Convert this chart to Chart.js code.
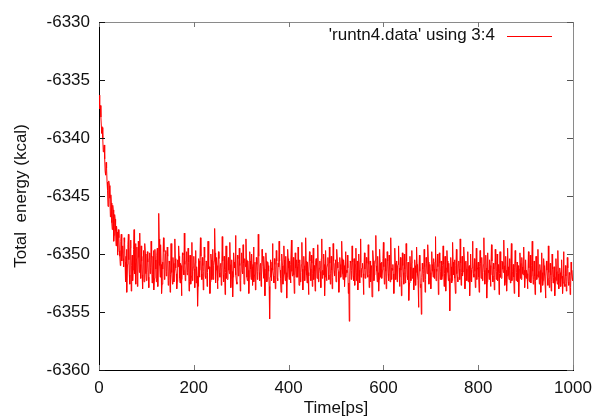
<!DOCTYPE html>
<html>
<head>
<meta charset="utf-8">
<script src="https://cdn.jsdelivr.net/npm/chart.js@4.4.1/dist/chart.umd.min.js"></script>
<style>
  html, body { margin: 0; padding: 0; background: #fff; }
  #wrap { width: 595px; height: 419px; }
</style>
</head>
<body>
<div id="wrap"><canvas id="c" width="595" height="419"></canvas></div>
<script>
// ---- data ----
const seriesLabel = "'runtn4.data' using 3:4";
const xTitle = "Time[ps]";
const yTitle = "Total  energy (kcal)";
const xTicks = [0, 200, 400, 600, 800, 1000];
const yTicks = [-6360, -6355, -6350, -6345, -6340, -6335, -6330];
const timeStep = 1; // ps between samples

const energy = [
  // 0 - 100 ps (relaxation)
  -6336.3, -6336.9, -6337.5, -6337.2, -6338.2, -6339.0, -6339.6, -6339.1, -6340.1, -6341.2,
  -6341.0, -6340.6, -6341.8, -6342.9, -6343.2, -6342.1, -6342.6, -6343.8, -6344.5, -6345.9,
  -6345.3, -6343.7, -6344.1, -6345.2, -6346.8, -6344.9, -6345.6, -6347.3, -6347.9, -6345.8,
  -6346.2, -6348.9, -6348.4, -6346.6, -6347.0, -6348.0, -6349.3, -6347.6, -6348.1, -6350.1,
  -6349.8, -6347.9, -6348.6, -6349.7, -6350.2, -6351.0, -6348.9, -6348.3, -6350.6, -6349.9,
  -6349.3, -6350.4, -6351.1, -6348.6, -6349.0, -6350.7, -6352.4, -6350.2, -6349.6, -6353.3,
  -6350.9, -6349.2, -6348.3, -6350.5, -6351.8, -6352.6, -6349.5, -6348.8, -6353.2, -6351.0,
  -6350.1, -6352.3, -6351.4, -6349.6, -6347.9, -6351.7, -6350.8, -6349.1, -6352.6, -6350.4,
  -6349.4, -6352.8, -6351.9, -6348.9, -6350.3, -6351.6, -6348.2, -6350.9, -6352.1, -6349.3,
  -6350.6, -6351.8, -6353.0, -6350.2, -6349.7, -6352.4, -6351.5, -6349.1, -6350.0, -6351.7,
  -6352.3,
  // 101 - 1000 ps
  -6351.6, -6349.8, -6350.7, -6352.0, -6352.9, -6350.4, -6349.9, -6351.7, -6351.2, -6348.9, -6350.3, -6352.5, -6351.8, -6350.2, -6349.7, -6353.1, -6352.1, -6349.6, -6350.5, -6351.3,
  -6352.4, -6350.1, -6349.5, -6352.8, -6350.8, -6346.5, -6348.7, -6351.0, -6352.0, -6349.2, -6350.9, -6353.4, -6352.6, -6350.7, -6351.3, -6348.6, -6349.8, -6352.2, -6351.9, -6350.0,
  -6349.7, -6351.9, -6351.5, -6349.4, -6350.2, -6352.7, -6352.3, -6350.6, -6350.9, -6353.3, -6351.8, -6349.1, -6350.0, -6351.6, -6352.6, -6350.3, -6350.8, -6352.4, -6351.4, -6348.7,
  -6350.4, -6351.2, -6351.7, -6353.0, -6352.4, -6350.5, -6351.1, -6349.3, -6350.2, -6352.1, -6352.5, -6350.8, -6351.0, -6353.6, -6352.2, -6349.9, -6350.1, -6351.4, -6351.8, -6348.2,
  -6350.9, -6352.3, -6352.0, -6350.6, -6349.8, -6351.8, -6351.6, -6349.5, -6350.7, -6353.2, -6352.4, -6350.1, -6350.5, -6352.6, -6351.9, -6349.0, -6352.3, -6351.5, -6351.1, -6350.2,
  -6351.3, -6352.9, -6350.8, -6349.7, -6352.5, -6351.1, -6351.9, -6354.5, -6352.8, -6350.4, -6350.6, -6352.0, -6351.4, -6348.6, -6350.2, -6351.7, -6352.2, -6350.3, -6351.0, -6353.1,
  -6351.5, -6349.4, -6350.3, -6351.9, -6352.1, -6350.6, -6350.7, -6352.8, -6351.6, -6348.9, -6350.1, -6351.3, -6351.1, -6353.4, -6352.4, -6350.0, -6350.5, -6352.2, -6351.8, -6349.6,
  -6352.2, -6351.0, -6350.6, -6347.8, -6349.9, -6352.5, -6351.4, -6350.3, -6351.0, -6353.0, -6352.3, -6349.8, -6350.4, -6351.6, -6352.0, -6350.9, -6350.8, -6352.7, -6351.2, -6348.5,
  -6350.6, -6351.8, -6352.4, -6350.2, -6351.3, -6353.5, -6351.6, -6349.3, -6350.8, -6352.1, -6352.2, -6350.7, -6350.3, -6351.4, -6351.7, -6349.0, -6350.9, -6352.9, -6352.1, -6350.5,
  -6351.5, -6353.7, -6352.0, -6349.9, -6350.7, -6351.2, -6350.9, -6348.4, -6351.8, -6352.4, -6352.6, -6350.1, -6350.4, -6351.9, -6351.2, -6349.5, -6351.0, -6353.2, -6352.3, -6350.8,
  -6349.9, -6351.5, -6351.7, -6349.2, -6350.8, -6352.6, -6351.9, -6350.4, -6351.1, -6348.7, -6350.5, -6352.0, -6352.3, -6350.6, -6351.4, -6353.4, -6352.0, -6349.8, -6350.6, -6351.3,
  -6352.2, -6350.0, -6351.1, -6352.7, -6350.9, -6349.4, -6352.4, -6351.8, -6350.7, -6353.1, -6351.8, -6350.3, -6350.9, -6352.2, -6351.5, -6348.3, -6350.2, -6351.6, -6352.3, -6350.9,
  -6350.8, -6352.8, -6351.9, -6349.6, -6350.4, -6351.1, -6352.1, -6350.2, -6351.3, -6353.6, -6351.7, -6349.9, -6350.6, -6352.4, -6352.2, -6350.7, -6351.0, -6351.5, -6352.8, -6355.6,
  -6352.0, -6350.5, -6351.2, -6352.3, -6350.7, -6349.1, -6351.4, -6351.9, -6352.5, -6350.4, -6350.9, -6353.0, -6351.3, -6349.7, -6350.6, -6352.1, -6352.3, -6350.8, -6351.1, -6348.9,
  -6350.6, -6351.4, -6352.1, -6353.3, -6351.4, -6350.0, -6351.0, -6352.6, -6351.8, -6349.3, -6350.5, -6351.7, -6352.3, -6350.2, -6351.6, -6353.8, -6352.0, -6349.6, -6350.4, -6351.2,
  -6352.2, -6350.6, -6351.0, -6352.5, -6350.9, -6348.8, -6351.5, -6351.9, -6350.7, -6350.3, -6351.8, -6353.4, -6352.1, -6349.9, -6351.2, -6352.0, -6350.5, -6351.1, -6352.0, -6349.4,
  -6350.8, -6352.7, -6351.7, -6350.5, -6352.4, -6351.6, -6350.9, -6349.0, -6351.3, -6353.1, -6352.0, -6350.2, -6351.0, -6352.3, -6351.4, -6348.6, -6350.6, -6351.8, -6352.5, -6350.7,
  -6351.6, -6353.5, -6351.9, -6349.8, -6350.6, -6351.3, -6352.3, -6350.1, -6350.8, -6352.8, -6351.7, -6349.5, -6352.2, -6351.0, -6351.5, -6353.2, -6350.7, -6350.4, -6351.0, -6352.1,
  -6350.9, -6349.2, -6352.4, -6351.7, -6351.2, -6350.6, -6351.5, -6352.9, -6350.4, -6348.7, -6352.1, -6351.4, -6351.8, -6350.0, -6350.9, -6353.6, -6352.0, -6349.7, -6351.3, -6352.3,
  -6351.2, -6350.9, -6350.3, -6351.8, -6352.2, -6349.4, -6350.8, -6352.6, -6351.7, -6350.2, -6351.4, -6353.0, -6352.0, -6349.1, -6350.6, -6351.5, -6351.9, -6350.8, -6350.5, -6352.4,
  -6351.8, -6349.6, -6350.7, -6351.2, -6351.5, -6353.3, -6352.1, -6350.3, -6350.9, -6352.0, -6351.3, -6348.9, -6350.4, -6351.7, -6352.2, -6350.5, -6351.0, -6352.8, -6351.6, -6349.8,
  -6352.0, -6351.4, -6351.6, -6350.1, -6351.2, -6353.4, -6352.5, -6355.8, -6351.9, -6350.6, -6350.8, -6352.2, -6351.4, -6349.3, -6350.7, -6351.9, -6352.3, -6350.4, -6351.1, -6352.7,
  -6350.9, -6349.5, -6352.3, -6351.6, -6350.6, -6353.1, -6351.8, -6350.0, -6351.4, -6352.5, -6350.7, -6348.7, -6352.0, -6351.3, -6351.2, -6350.8, -6351.7, -6353.5, -6352.1, -6349.9,
  -6351.3, -6352.1, -6351.9, -6350.3, -6350.8, -6351.8, -6352.0, -6349.2, -6350.9, -6352.9, -6351.7, -6350.6, -6352.4, -6351.1, -6351.0, -6353.7, -6351.5, -6349.7, -6350.6, -6352.3,
  -6351.8, -6350.9, -6350.5, -6348.4, -6351.0, -6351.5, -6352.4, -6350.2, -6351.6, -6353.2, -6352.2, -6349.6, -6350.8, -6352.0, -6351.3, -6350.7, -6352.1, -6351.4, -6350.4, -6349.0,
  -6351.1, -6352.6, -6352.0, -6350.4, -6351.5, -6353.0, -6351.9, -6349.8, -6350.6, -6351.7, -6352.3, -6350.1, -6351.0, -6352.4, -6350.7, -6348.6, -6352.2, -6351.2, -6351.4, -6350.9,
  -6351.7, -6353.4, -6352.1, -6349.5, -6350.8, -6352.2, -6351.5, -6350.6, -6352.4, -6351.0, -6350.9, -6349.3, -6351.2, -6352.8, -6352.0, -6350.3, -6351.4, -6353.6, -6352.3, -6349.9,
  -6351.0, -6351.6, -6352.6, -6350.0, -6351.3, -6352.5, -6351.8, -6349.1, -6350.6, -6351.9, -6352.2, -6350.7, -6351.7, -6354.0, -6352.5, -6350.2, -6351.1, -6352.3, -6350.8, -6349.7,
  -6352.1, -6351.4, -6351.2, -6353.1, -6352.4, -6350.5, -6351.0, -6352.7, -6351.6, -6349.4, -6350.9, -6351.8, -6352.3, -6354.6, -6351.9, -6350.1, -6351.5, -6352.9, -6352.6, -6355.2,
  -6352.0, -6350.8, -6351.3, -6352.4, -6351.7, -6349.6, -6351.1, -6353.3, -6352.2, -6350.3, -6350.8, -6351.7, -6351.4, -6349.2, -6350.7, -6352.6, -6352.1, -6350.9, -6351.6, -6353.0,
  -6351.4, -6349.8, -6350.9, -6351.5, -6352.0, -6350.4, -6351.3, -6352.1, -6350.7, -6348.5, -6352.3, -6351.3, -6351.5, -6350.0, -6351.1, -6353.5, -6352.4, -6349.9, -6350.8, -6352.2,
  -6351.5, -6350.6, -6352.2, -6351.9, -6351.0, -6349.3, -6350.9, -6352.8, -6351.7, -6350.2, -6352.0, -6353.2, -6351.2, -6349.7, -6350.6, -6351.6, -6352.3, -6350.8, -6352.1, -6354.9,
  -6351.8, -6350.3, -6351.1, -6352.5, -6352.3, -6349.0, -6350.7, -6351.8, -6351.4, -6350.5, -6352.1, -6353.4, -6351.0, -6349.6, -6351.7, -6352.0, -6352.4, -6350.9, -6350.6, -6351.3,
  -6352.2, -6348.7, -6350.8, -6352.7, -6351.6, -6350.2, -6351.9, -6351.5, -6351.0, -6349.4, -6350.7, -6353.0, -6352.1, -6350.6, -6351.3, -6352.3, -6351.5, -6349.8, -6352.4, -6351.1,
  -6351.0, -6353.6, -6352.3, -6350.0, -6351.4, -6352.4, -6351.2, -6348.9, -6350.6, -6351.7, -6352.0, -6350.4, -6351.5, -6352.9, -6351.8, -6349.5, -6352.2, -6351.2, -6351.3, -6350.7,
  -6352.0, -6353.3, -6351.1, -6349.7, -6350.8, -6352.1, -6351.9, -6350.3, -6352.3, -6351.6, -6350.9, -6348.6, -6351.4, -6352.6, -6351.7, -6350.1, -6351.2, -6353.8, -6352.4, -6349.9,
  -6351.6, -6351.4, -6352.2, -6350.5, -6351.0, -6352.8, -6351.8, -6349.2, -6350.6, -6351.9, -6352.4, -6350.8, -6351.3, -6353.1, -6352.0, -6349.6, -6350.9, -6352.2, -6351.5, -6350.0,
  -6352.3, -6351.5, -6350.9, -6353.5, -6351.7, -6349.8, -6351.2, -6352.0, -6352.1, -6350.6, -6350.7, -6351.3, -6351.6, -6348.8, -6351.0, -6352.7, -6352.4, -6350.2, -6351.4, -6353.2,
  -6351.9, -6349.5, -6351.1, -6351.8, -6352.2, -6350.4, -6351.4, -6352.5, -6350.8, -6349.1, -6352.3, -6351.6, -6351.5, -6350.9, -6352.0, -6353.4, -6351.2, -6349.7, -6350.8, -6352.3,
  -6351.6, -6350.7, -6352.4, -6351.0, -6351.9, -6353.7, -6351.3, -6349.9, -6350.8, -6352.1, -6352.2, -6350.3, -6351.1, -6351.7, -6351.8, -6349.4, -6351.4, -6352.9, -6352.0, -6350.5,
  -6352.1, -6351.4, -6351.7, -6353.0, -6352.3, -6349.8, -6351.2, -6352.4, -6351.8, -6350.1, -6352.5, -6351.9, -6351.0, -6348.9, -6351.5, -6352.6, -6352.2, -6350.6, -6351.9, -6353.5,
  -6352.4, -6350.2, -6351.3, -6352.2, -6351.8, -6349.6, -6352.0, -6351.5, -6352.6, -6350.9, -6351.4, -6353.3, -6352.1, -6349.9, -6351.6, -6352.7, -6352.3, -6350.4, -6351.0, -6351.8,
  -6352.5, -6353.8, -6351.9, -6350.6, -6351.4, -6352.1, -6352.7, -6349.3, -6351.6, -6352.9, -6352.2, -6350.8, -6351.8, -6353.2, -6352.4, -6350.0, -6351.3, -6352.5, -6352.0, -6351.1,
  -6352.3, -6353.6, -6352.0, -6350.4, -6351.5, -6352.3, -6352.6, -6349.7, -6351.7, -6353.0, -6352.4, -6351.2, -6351.6, -6352.8, -6352.1, -6350.5, -6351.9, -6353.4, -6352.5, -6349.8,
  -6351.7, -6352.6, -6352.8, -6351.0, -6351.9, -6353.2, -6352.4, -6350.3, -6351.2, -6352.4, -6352.7, -6351.6, -6351.8, -6353.5, -6352.9, -6350.7, -6351.6, -6352.1, -6352.3, -6351.4
];

// ---- chart ----
const FONT = "'Liberation Sans', Arial, Helvetica, sans-serif";
const points = energy.map((e, i) => ({ x: i * timeStep, y: e }));

const framePlugin = {
  id: 'gnuplotFrame',
  afterDatasetsDraw(chart) {
    const { ctx, chartArea: a, scales } = chart;
    const xs = scales.x, ys = scales.y;
    ctx.save();
    ctx.lineWidth = 1;
    // top and right border (grey)
    ctx.strokeStyle = '#8a8a8a';
    ctx.beginPath();
    ctx.moveTo(a.left, Math.round(a.top) + 0.5);
    ctx.lineTo(Math.round(a.right) + 0.5, Math.round(a.top) + 0.5);
    ctx.lineTo(Math.round(a.right) + 0.5, a.bottom);
    ctx.stroke();
    // inward ticks on x (bottom + top mirror)
    ctx.strokeStyle = '#777';
    xs.ticks.forEach(t => {
      const px = Math.round(xs.getPixelForValue(t.value)) + 0.5;
      ctx.beginPath();
      ctx.moveTo(px, a.bottom); ctx.lineTo(px, a.bottom - 5);
      ctx.moveTo(px, a.top); ctx.lineTo(px, a.top + 5);
      ctx.stroke();
    });
    // inward ticks on y (left black, right mirror)
    ys.ticks.forEach(t => {
      const py = Math.round(ys.getPixelForValue(t.value)) + 0.5;
      ctx.strokeStyle = '#111';
      ctx.beginPath();
      ctx.moveTo(a.left, py); ctx.lineTo(a.left + 6, py);
      ctx.stroke();
      ctx.strokeStyle = '#555';
      ctx.beginPath();
      ctx.moveTo(a.right, py); ctx.lineTo(a.right - 6, py);
      ctx.stroke();
    });
    // key (legend) inside plot, gnuplot style
    const ds = chart.data.datasets[0];
    ctx.font = '17px ' + FONT;
    ctx.fillStyle = '#111';
    ctx.textAlign = 'right';
    ctx.textBaseline = 'middle';
    ctx.fillText(ds.label, 495, 35);
    ctx.strokeStyle = ds.borderColor;
    ctx.beginPath();
    ctx.moveTo(507, 36.5); ctx.lineTo(552, 36.5);
    ctx.stroke();
    ctx.restore();
  }
};

new Chart(document.getElementById('c'), {
  type: 'line',
  data: {
    datasets: [{
      label: seriesLabel,
      data: points,
      borderColor: 'rgb(255,0,0)',
      borderWidth: 1,
      pointRadius: 0,
      tension: 0,
      fill: false
    }]
  },
  options: {
    responsive: false,
    animation: false,
    devicePixelRatio: 1,
    layout: { padding: { top: 22, right: 22, left: 0, bottom: 0 } },
    plugins: { legend: { display: false }, tooltip: { enabled: false } },
    scales: {
      x: {
        type: 'linear',
        min: xTicks[0], max: xTicks[xTicks.length - 1],
        afterBuildTicks: s => { s.ticks = xTicks.map(v => ({ value: v })); },
        afterFit: s => { s.height = 49; s.paddingLeft = 0; s.paddingRight = 0; },
        grid: { display: false, drawTicks: false },
        border: { display: true, color: '#000', width: 1 },
        ticks: {
          padding: 8,
          color: '#111',
          font: { family: FONT, size: 17 },
          maxRotation: 0,
          callback: v => String(v)
        },
        title: {
          display: true, text: xTitle, color: '#111',
          font: { family: FONT, size: 17 },
          padding: { top: 0, bottom: 0 }
        }
      },
      y: {
        type: 'linear',
        min: yTicks[0], max: yTicks[yTicks.length - 1],
        afterBuildTicks: s => { s.ticks = yTicks.map(v => ({ value: v })); },
        afterFit: s => { s.width = 99; s.paddingTop = 0; s.paddingBottom = 0; },
        grid: { display: false, drawTicks: false },
        border: { display: true, color: '#000', width: 1 },
        ticks: {
          padding: 9,
          color: '#111',
          font: { family: FONT, size: 17 },
          callback: v => String(v)
        },
        title: {
          display: true, text: yTitle, color: '#111',
          font: { family: FONT, size: 17 },
          padding: { top: 11, bottom: 0 }
        }
      }
    }
  },
  plugins: [framePlugin]
});
</script>
</body>
</html>
